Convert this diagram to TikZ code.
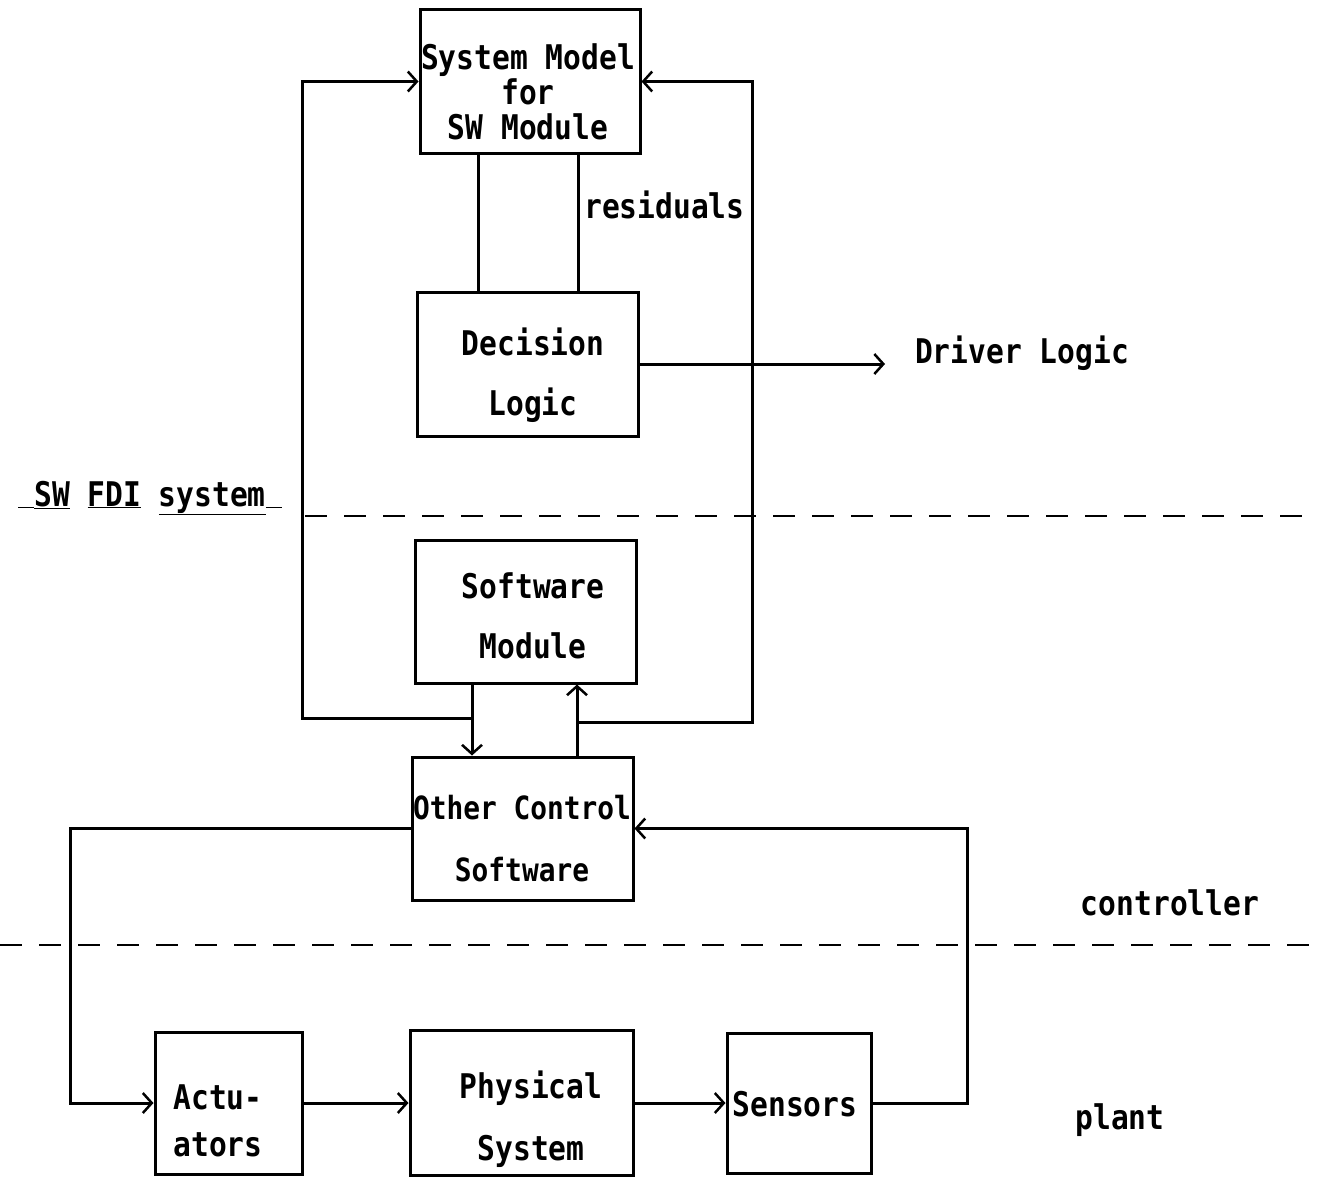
\documentclass[tikz,border=0pt]{standalone}
\usepackage{fontspec}
\setmainfont{DejaVu Sans Mono}[FakeStretch=0.87]
\usetikzlibrary{arrows.meta}
\tikzset{
  box/.style={draw, line width=3pt, inner sep=0pt},
  txt/.style={inner sep=0pt, align=center, font=\fontsize{34}{35}\selectfont\bfseries},
  arr/.style={line width=3pt, -{Straight Barb[length=9pt,width=20pt,line width=2.5pt]}},
  ln/.style={line width=3pt},
  dashline/.style={line width=2.2pt, dash pattern=on 22pt off 17pt},
}
\begin{document}
\begin{tikzpicture}[x=1pt,y=-1pt]
\useasboundingbox (0,0) rectangle (1335,1180);
% boxes
\node[box, minimum width=220pt, minimum height=143pt] (sm) at (530,81.5) {};
\node[box, minimum width=221pt, minimum height=144pt] (dl) at (527.5,364) {};
\node[box, minimum width=221pt, minimum height=143pt] (sw) at (525.5,611.5) {};
\node[box, minimum width=221pt, minimum height=143pt] (ocs) at (522.5,828.5) {};
\node[box, minimum width=147pt, minimum height=142pt] (act) at (228.5,1103) {};
\node[box, minimum width=223pt, minimum height=145pt] (phys) at (521.5,1103) {};
\node[box, minimum width=144pt, minimum height=140pt] (sens) at (799,1103) {};
% box texts
\node[txt] (smt) at (528,92) {System Model\\for\\SW Module};
\node[txt] (dlt) at (533,375) {Decision\\[25pt]Logic};
\node[txt] (swt) at (533,616) {Software\\[25pt]Module};
\node[txt, font=\fontsize{32}{35}\selectfont\bfseries] (ocst) at (522,839) {Other Control\\[27pt]Software};
\node[txt, align=left] (actt) at (218,1121) {Actu-\\[12pt]ators};
\node[txt] (physt) at (531,1119) {Physical\\[27pt]System};
\node[txt] (senst) at (795,1104) {Sensors};
% free labels
\node[txt, anchor=west] (res) at (584,205) {residuals};
\node[txt] (drv) at (1022,353) {Driver Logic};
\node[txt] (ctrl) at (1170,903) {controller};
\node[txt] (plant) at (1120,1120) {plant};
\node[txt] (fdi) at (150,498) {\underline{\hspace{16pt}}\underline{SW} \underline{FDI} \underline{system}\underline{\hspace{16pt}}};
% helper coordinates
\coordinate (xa) at (472,0);
\coordinate (xb) at (577,0);
\coordinate (xc) at (478,0);
\coordinate (xd) at (578,0);
\coordinate (ll) at (302,718);
\coordinate (rl) at (752,722);
\coordinate (lx) at (70,0);
\coordinate (rx) at (967,0);
\coordinate (dend) at (885,0);
% connectors
\draw[ln] (sm.south -| xc) -- (dl.north -| xc);
\draw[ln] (sm.south -| xd) -- (dl.north -| xd);
\draw[arr] (dl.east) -- (dend |- dl.east);
\draw[arr] (sw.south -| xa) -- (ocs.north -| xa);
\draw[arr] (ocs.north -| xb) -- (sw.south -| xb);
\draw[arr] (xa |- ll) -- (ll) |- (sm.west);
\draw[arr] (xb |- rl) -- (rl) |- (sm.east);
\draw[arr] (ocs.west) -| (lx |- act.west) -- (act.west);
\draw[arr] (act.east) -- (phys.west);
\draw[arr] (phys.east) -- (sens.west);
\draw[arr] (sens.east) -| (rx |- ocs.east) -- (ocs.east);
% dashed separators
\draw[dashline] (305,516) -- (1310,516);
\draw[dashline] (0,945) -- (1325,945);
\end{tikzpicture}
\end{document}
